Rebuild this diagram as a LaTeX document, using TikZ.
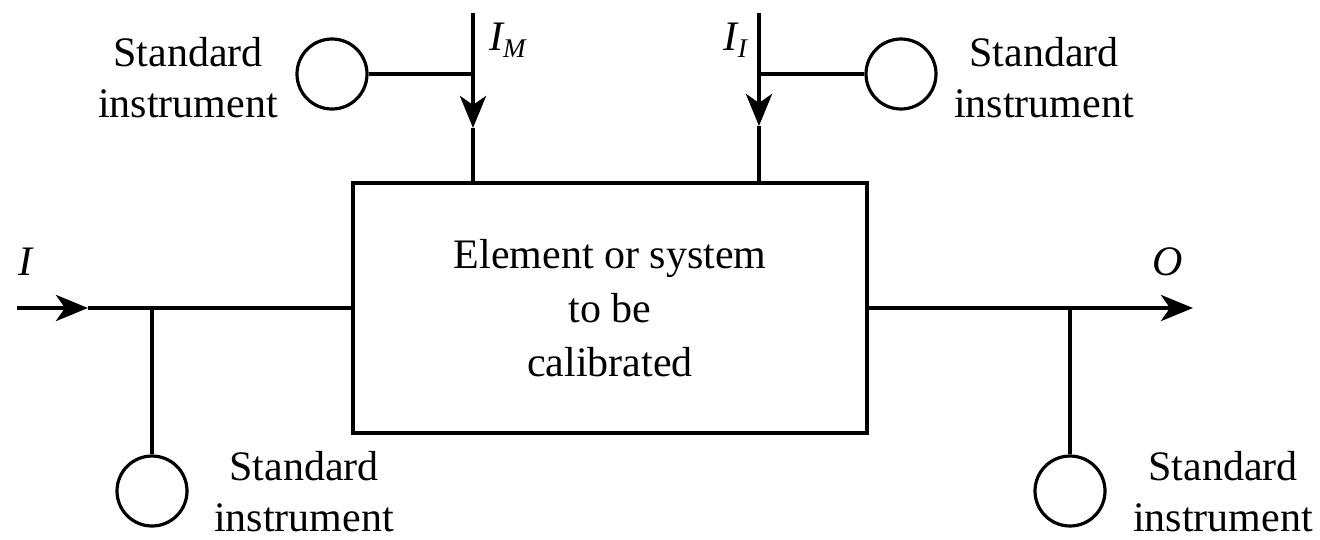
\documentclass[tikz,border=0pt]{standalone}
\usepackage{fontspec}
\setmainfont{Liberation Serif}
\newfontfamily\figserif{Liberation Serif}
\usetikzlibrary{arrows.meta}
\begin{document}
\begin{tikzpicture}[x=1pt,y=-1pt,
  main/.style={line width=4.5pt},
  tap/.style={line width=3.2pt},
  arr/.style={-{Stealth[length=32pt,width=26pt,inset=9pt]}},
  instr/.style={circle,draw,line width=3.2pt,minimum size=70pt,inner sep=0pt},
  lbl/.style={align=center,inner sep=0pt,font=\figserif\fontsize{42}{51}\selectfont},
  sym/.style={inner sep=0pt,font=\figserif\fontsize{42}{50}\selectfont\itshape}
]
\useasboundingbox (0,0) rectangle (1320,539);
\fill[white] (0,0) rectangle (1320,539);

% main box
\node[draw,main,minimum width=514pt,minimum height=250pt,inner sep=0pt,
      align=center,font=\figserif\fontsize{42}{54}\selectfont] (box) at (610,308)
  {Element or system\\to be\\calibrated};

% instruments
\node[instr] (cM) at (332,74) {};
\node[instr] (cI) at (901,74) {};
\node[instr] (cin) at (152,491) {};
\node[instr] (cout) at (1070,491) {};

% coordinates
\coordinate (inI) at (17,308);
\coordinate (arrIn) at (88,308);
\coordinate (tapIn) at (152,308);
\coordinate (outO) at (1193,308);
\coordinate (tapOut) at (1070,308);
\coordinate (topM) at (473,13);
\coordinate (arrM) at (473,128);
\coordinate (tapM) at (473,74);
\coordinate (topI) at (759,13);
\coordinate (arrI) at (759,126);
\coordinate (tapI) at (759,74);

% input line
\draw[main,arr] (inI) -- (arrIn);
\draw[main] (arrIn) -- (box.west);
\draw[tap] (tapIn) -- (cin.north);

% output line
\draw[main,arr] (box.east) -- (outO);
\draw[tap] (tapOut) -- (cout.north);

% top left input I_M
\draw[main,arr] (topM) -- (arrM);
\draw[main] (arrM) -- (arrM |- box.north);
\draw[tap] (cM.east) -- (tapM);

% top right input I_I
\draw[main,arr] (topI) -- (arrI);
\draw[main] (arrI) -- (arrI |- box.north);
\draw[tap] (tapI) -- (cI.west);

% symbol labels
\node[sym,anchor=base west] (lIM) at (489,50) {I\raisebox{-7pt}{\fontsize{27}{27}\selectfont M}};
\node[sym,anchor=base east] (lII) at (747,50) {I\raisebox{-7pt}{\fontsize{27}{27}\selectfont I}};
\node[sym,anchor=base west] (lI) at (18,275) {I};
\node[sym,anchor=base west] (lO) at (1152,275) {O};

% text labels
\node[lbl] (tM) at (188,78) {Standard\\instrument};
\node[lbl] (tI) at (1044,78) {Standard\\instrument};
\node[lbl] (tin) at (304,492) {Standard\\instrument};
\node[lbl] (tout) at (1223,492) {Standard\\instrument};
\end{tikzpicture}
\end{document}
